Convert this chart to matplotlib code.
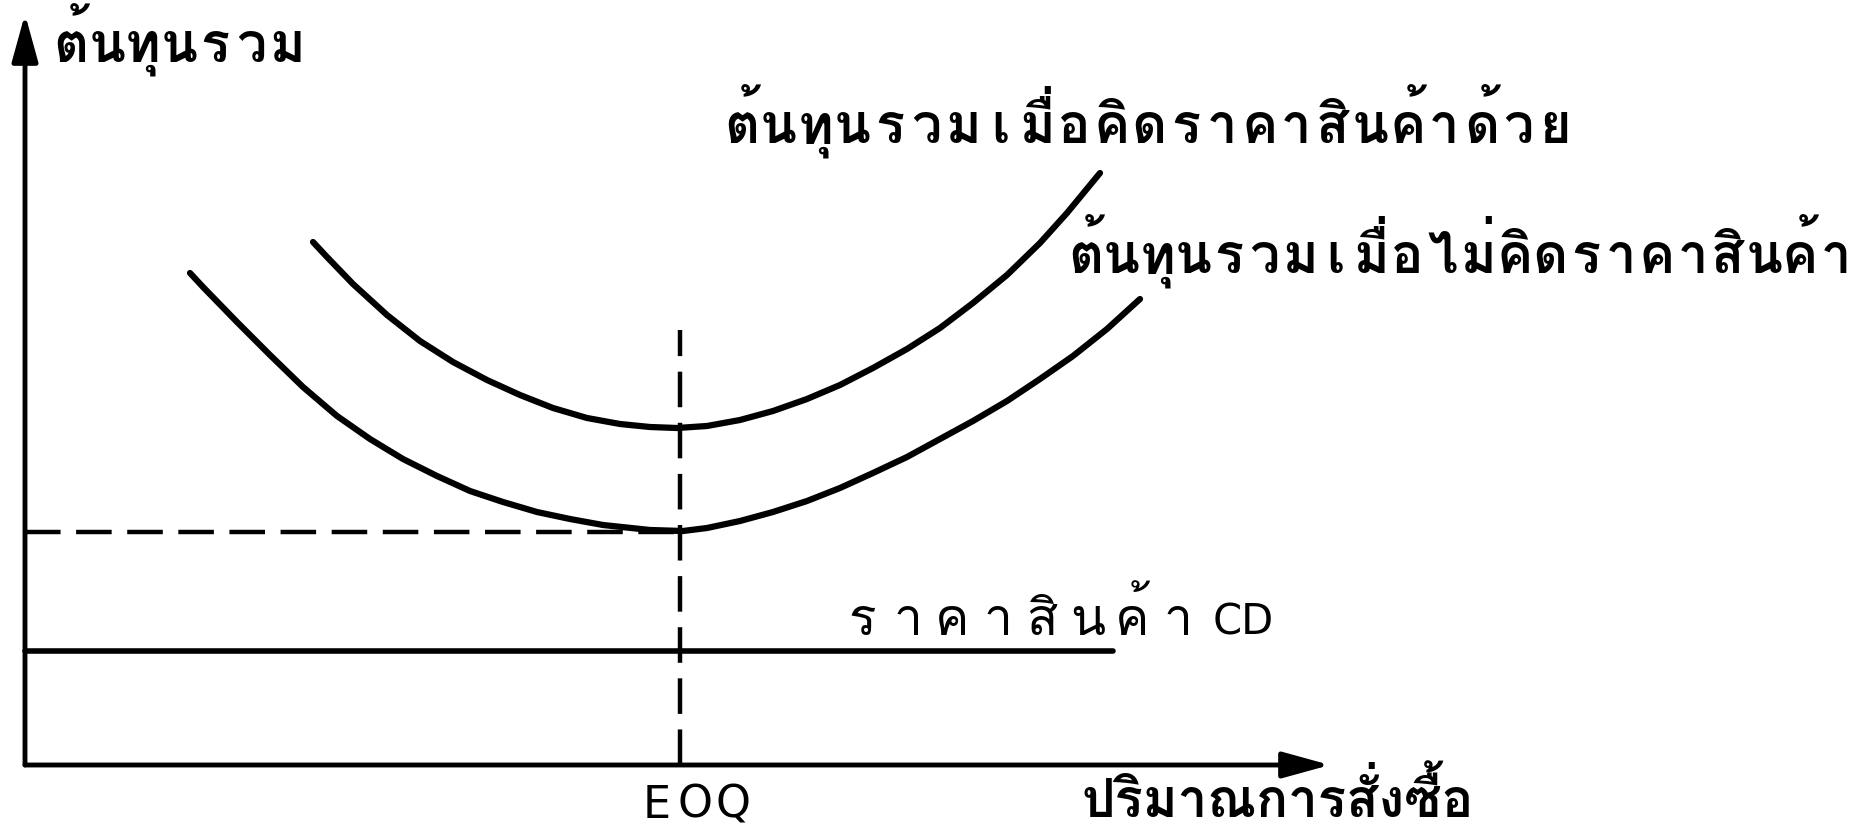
import numpy as np
import matplotlib
matplotlib.use('Agg')
import matplotlib.pyplot as plt

plt.rcParams['font.family'] = ['Loma', 'Noto Sans Thai', 'Garuda', 'DejaVu Sans']

# total cost vs order quantity (1 unit = 1 px)
with_price_x = [288, 302, 328, 362, 395, 428, 462, 495, 528, 562, 595, 625, 652,
                682, 715, 748, 782, 815, 848, 882, 915, 948, 982, 1015, 1042, 1075]
with_price_y = [523, 508, 481, 450, 424, 403, 385, 370, 357, 347, 341, 338, 337,
                339, 345, 354, 366, 380, 397, 416, 437, 462, 490, 522, 552, 592]

no_price_x = [165, 178, 212, 245, 278, 312, 345, 378, 412, 445, 478, 512, 545, 578,
              625, 658, 682, 715, 748, 782, 815, 848, 882, 915, 948, 982, 1015,
              1048, 1082, 1115]
no_price_y = [492, 478, 443, 410, 378, 349, 326, 306, 289, 274, 263, 253, 246, 240,
              235, 234, 237, 244, 253, 264, 277, 292, 308, 326, 344, 364, 386,
              409, 436, 466]

eoq = 655
eoq_top = 435
min_cost = 233
price_cd = 114
price_end = 1088
x_axis_end = 1305
y_axis_end = 751

lbl_y = 'ต้นทุนรวม'
lbl_x = 'ปริมาณการสั่งซื้อ'
lbl_with = 'ต้นทุนรวมเมื่อคิดราคาสินค้าด้วย'
lbl_without = 'ต้นทุนรวมเมื่อไม่คิดราคาสินค้า'
lbl_price = 'ราคาสินค้า'
lbl_cd = 'CD'
lbl_eoq = 'EOQ'

MARKS = {0x0E31} | set(range(0x0E34, 0x0E3B)) | set(range(0x0E47, 0x0E4F))


def clusters(s):
    out = []
    for ch in s:
        if out and ord(ch) in MARKS:
            out[-1] += ch
        else:
            out.append(ch)
    return out


def typed(ax, x0, y, s, pitch, **kw):
    # typewriter style: one cell per letter
    for i, c in enumerate(clusters(s)):
        ax.text(x0 + (i + 0.5) * pitch, y, c, ha='center', va='baseline', **kw)


fig = plt.figure(figsize=(18.58, 8.28), dpi=100)
ax = fig.add_axes([0, 0, 1, 1])
ax.set_xlim(-25, 1833)
ax.set_ylim(-62, 766)
ax.axis('off')

arrow = dict(arrowstyle='-|>,head_length=1.45,head_width=0.4', lw=3.5,
             color='black', shrinkA=0, shrinkB=0, mutation_scale=20)
ax.annotate('', xy=(0, y_axis_end), xytext=(0, 0), arrowprops=arrow,
            annotation_clip=False)
ax.annotate('', xy=(x_axis_end, 0), xytext=(0, 0), arrowprops=arrow,
            annotation_clip=False)

ax.plot(with_price_x, with_price_y, color='black', lw=4.5,
        solid_capstyle='round', solid_joinstyle='round')
ax.plot(no_price_x, no_price_y, color='black', lw=4.5,
        solid_capstyle='round', solid_joinstyle='round')
ax.plot([0, price_end], [price_cd, price_cd], color='black', lw=4,
        solid_capstyle='round')

ax.plot([eoq, eoq], [0, eoq_top], color='black', lw=3.2, dashes=(8, 3.5))
ax.plot([0, eoq], [min_cost, min_cost], color='black', lw=3.2, dashes=(8, 3.5))

bold = dict(fontsize=39, fontweight='bold')
typed(ax, 28, 704, lbl_y, 36, **bold)
typed(ax, 698, 623, lbl_with, 37, **bold)
typed(ax, 1043, 493, lbl_without, 35.7, **bold)
ax.text(1057, -51, lbl_x, ha='left', va='baseline', fontsize=38,
        fontweight='bold')
typed(ax, 815, 131, lbl_price, 45, fontsize=37)
ax.text(1188, 131, lbl_cd, fontsize=30, ha='left', va='baseline',
        family='DejaVu Sans')
typed(ax, 613, -52, lbl_eoq, 38, fontsize=32, family='DejaVu Sans')

fig.savefig('out.png', dpi=100)
